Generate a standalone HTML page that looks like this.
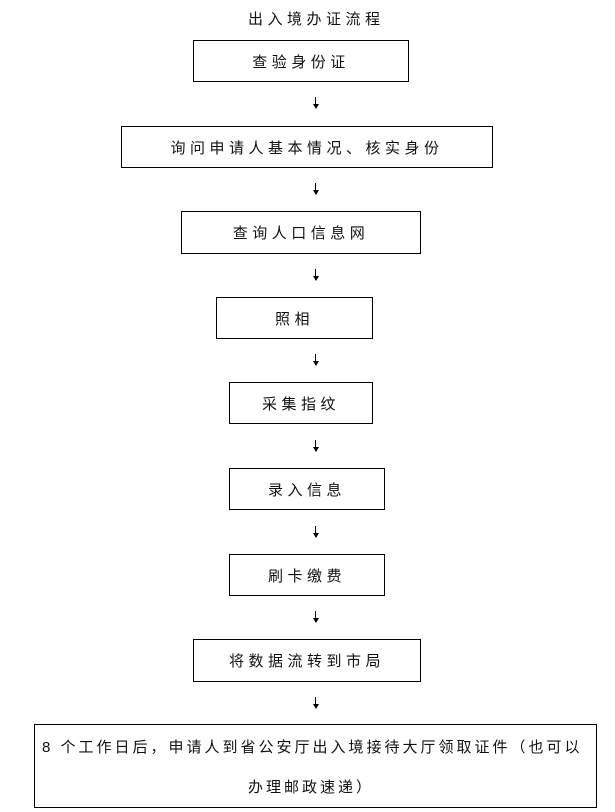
<!DOCTYPE html>
<html><head><meta charset="utf-8"><style>
body{margin:0;width:615px;height:812px;background:#fff;position:relative;font-family:"Liberation Sans","Noto Sans CJK SC",sans-serif;color:#111;overflow:hidden}
.b{position:absolute;border:1.5px solid #000;box-sizing:border-box;display:flex;align-items:center;justify-content:center;font-size:15px;letter-spacing:4.5px}
.t{position:absolute;font-size:15px;letter-spacing:4.5px;white-space:nowrap}
.a{position:absolute;left:315px;width:1px;height:11px;background:#000}
.a::after{content:"";position:absolute;left:-2.5px;bottom:-1px;border-left:3px solid transparent;border-right:3px solid transparent;border-top:5px solid #000}
</style></head><body>
<div class="t" style="left:248px;top:8px">出入境办证流程</div>
<div class="b" style="left:193px;top:40px;width:216px;height:42px">查验身份证</div>
<div class="a" style="top:97px"></div>
<div class="b" style="left:121px;top:126px;width:372px;height:42px">询问申请人基本情况、核实身份</div>
<div class="a" style="top:183px"></div>
<div class="b" style="left:181px;top:211px;width:240px;height:43px">查询人口信息网</div>
<div class="a" style="top:269px"></div>
<div class="b" style="left:216px;top:297px;width:157px;height:42px">照相</div>
<div class="a" style="top:354px"></div>
<div class="b" style="left:229px;top:382px;width:144px;height:42px">采集指纹</div>
<div class="a" style="top:440px"></div>
<div class="b" style="left:229px;top:468px;width:156px;height:42px">录入信息</div>
<div class="a" style="top:526px"></div>
<div class="b" style="left:229px;top:554px;width:156px;height:42px">刷卡缴费</div>
<div class="a" style="top:611px"></div>
<div class="b" style="left:193px;top:639px;width:228px;height:43px">将数据流转到市局</div>
<div class="a" style="top:697px"></div>
<div class="b" style="left:34px;top:724px;width:563px;height:84px;display:block;letter-spacing:3px;font-size:15px">
<div style="position:absolute;left:7px;top:11px;white-space:nowrap">8 个工作日后，申请人到省公安厅出入境接待大厅领取证件（也可以</div>
<div style="position:absolute;left:213px;top:51px;white-space:nowrap">办理邮政速递）</div>
</div>
</body></html>
